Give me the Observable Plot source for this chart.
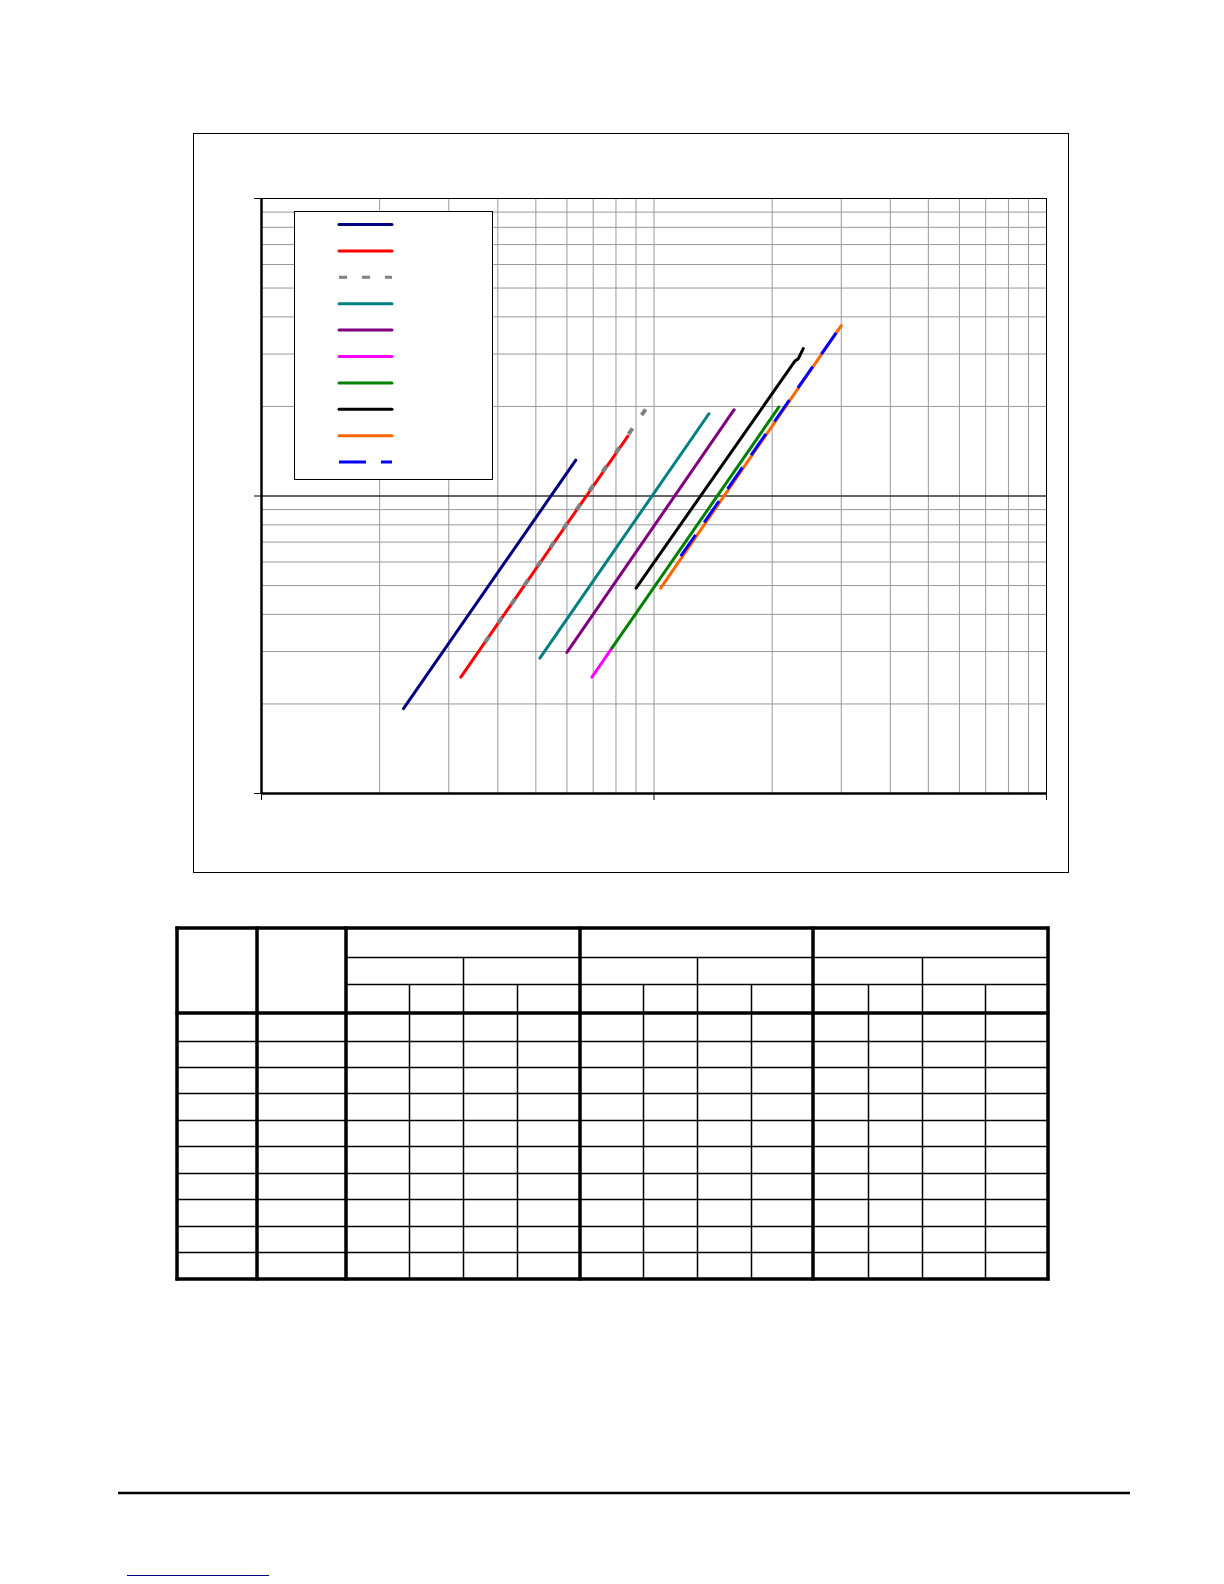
<!DOCTYPE html>
<html>
<head>
<meta charset="utf-8">
<script src="https://cdn.jsdelivr.net/npm/d3@7"></script>
<script src="https://cdn.jsdelivr.net/npm/@observablehq/plot@0.6"></script>
<style>
html,body{margin:0;padding:0;background:#fff}
#page{position:relative;width:1224px;height:1584px;overflow:hidden;font-family:Arial,"Liberation Sans",sans-serif;background:#fff}
#frame{position:absolute;left:193px;top:133px;width:876px;height:740px;border:1px solid #000;box-sizing:border-box}
#plot{position:absolute;left:211px;top:188px}
#overlay{position:absolute;left:0;top:0}
</style>
</head>
<body>
<div id="page">
  <div id="frame"></div>
  <div id="plot"></div>
  <svg id="overlay" width="1224" height="1584"></svg>
</div>
<script>
// ---- data (log-log, two decades each axis) ----
const seriesNames  = ["s1","s2","s3","s4","s5","s6","s7","s8","s9","s10"];
const seriesColors = ["#000080","#ff0000","#808080","#008080","#800080","#ff00ff","#008000","#000000","#ff6600","#0000ff"];
const seriesDash   = [null,null,"7,16",null,null,null,null,null,null,"26,15"];

const navyX    = [2.30, 6.32];   const navyY    = [1.93, 13.2];
const redX     = [3.22, 8.58];   const redY     = [2.46, 15.9];
const grayX    = [3.71, 9.71];   const grayY    = [3.22, 20.3];
const tealX    = [5.12, 13.8];   const tealY    = [2.85, 18.9];
const purpleX  = [6.00, 16.0];   const purpleY  = [2.98, 19.5];
const magentaX = [6.95, 7.81];   const magentaY = [2.46, 3.08];
const greenX   = [7.81, 20.8];   const greenY   = [3.08, 19.9];
const blackX   = [9.00, 22.9, 23.3, 24.0]; const blackY = [4.90, 28.5, 28.9, 31.3];
const orangeX  = [10.4, 30.0];   const orangeY  = [4.90, 37.4];
const blueX    = [11.7, 30.0];   const blueY    = [6.28, 37.4];

const seriesX = [navyX, redX, grayX, tealX, purpleX, magentaX, greenX, blackX, orangeX, blueX];
const seriesY = [navyY, redY, grayY, tealY, purpleY, magentaY, greenY, blackY, orangeY, blueY];

const majorTicks = [1, 10, 100];
const gridValues = [1,2,3,4,5,6,7,8,9,10,20,30,40,50,60,70,80,90,100];

// ---- chart ----
const lineMarks = seriesNames.map((name, i) => {
  const pts = seriesX[i].map((x, j) => ({x, y: seriesY[i][j]}));
  return Plot.line(pts, {
    x: "x", y: "y",
    stroke: seriesColors[i],
    strokeWidth: i === 2 ? 4 : 3,
    strokeDasharray: seriesDash[i] || undefined,
    strokeLinecap: seriesDash[i] ? "butt" : "round"
  });
});

const chart = Plot.plot({
  width: 845,
  height: 627,
  marginLeft: 50,
  marginRight: 10,
  marginTop: 10,
  marginBottom: 22,
  style: {background: "transparent", overflow: "visible"},
  x: {type: "log", domain: [1, 100], axis: null, label: null},
  y: {type: "log", domain: [1, 100], axis: null, label: null},
  marks: [
    Plot.ruleX(gridValues, {stroke: "#999", strokeWidth: 1}),
    Plot.ruleY(gridValues, {stroke: "#999", strokeWidth: 1}),
    Plot.ruleY([10], {stroke: "#000", strokeWidth: 1}),
    Plot.ruleY([100], {stroke: "#000", strokeWidth: 1}),
    Plot.ruleX([100], {stroke: "#000", strokeWidth: 1}),
    Plot.axisX(majorTicks, {anchor: "bottom", tickSize: 7, tickFormat: () => "", label: null, stroke: "#000"}),
    Plot.axisY(majorTicks, {anchor: "left", tickSize: 7, tickFormat: () => "", label: null, stroke: "#000"}),
    Plot.ruleY([1], {stroke: "#000", strokeWidth: 2.5}),
    Plot.ruleX([1], {stroke: "#000", strokeWidth: 2.5}),
    ...lineMarks
  ]
});
document.getElementById("plot").appendChild(chart);

// ---- legend, table, footer ----
const svg = d3.select("#overlay");

// legend
const lg = svg.append("g");
lg.append("rect").attr("x", 294.5).attr("y", 211.5).attr("width", 198).attr("height", 268)
  .attr("fill", "#fff").attr("stroke", "#000").attr("stroke-width", 1);
seriesNames.forEach((name, i) => {
  const y = 224.5 + i * 26.4;
  lg.append("line")
    .attr("x1", 339).attr("x2", 392).attr("y1", y).attr("y2", y)
    .attr("stroke", seriesColors[i]).attr("stroke-width", 3)
    .attr("stroke-dasharray", seriesDash[i] ? (i === 2 ? "8,15" : "27,15") : null)
    .attr("stroke-linecap", seriesDash[i] ? "butt" : "round");
});

// table grid
const colEdges = [177, 257, 346, 409, 463, 517, 580, 643, 697, 751, 813, 868, 922, 985, 1048];
const rowEdges = [928, 957, 984, 1013, 1041, 1067, 1093, 1120, 1146, 1173, 1199, 1226, 1252, 1279];
const tg = svg.append("g").attr("stroke", "#000").attr("fill", "none");
const L = colEdges[0], R = colEdges[colEdges.length - 1];
const T = rowEdges[0], B = rowEdges[rowEdges.length - 1];
rowEdges.forEach((y, i) => {
  if (i === 0 || i === 3 || i === rowEdges.length - 1) return;
  const x1 = (i < 3) ? colEdges[2] : L;
  tg.append("line").attr("x1", x1).attr("x2", R).attr("y1", y + 0.5).attr("y2", y + 0.5).attr("stroke-width", 1.5);
});
colEdges.forEach((x, i) => {
  if ([0, 1, 2, 6, 10, 14].includes(i)) return;
  const subgroup = [4, 8, 12].includes(i);
  const y1 = subgroup ? rowEdges[1] : rowEdges[2];
  tg.append("line").attr("x1", x + 0.5).attr("x2", x + 0.5).attr("y1", y1).attr("y2", B).attr("stroke-width", 1.5);
});
[0, 3, rowEdges.length - 1].forEach(i => {
  tg.append("line").attr("x1", L - 1.5).attr("x2", R + 1.5).attr("y1", rowEdges[i]).attr("y2", rowEdges[i]).attr("stroke-width", 3.5);
});
[0, 1, 2, 6, 10, 14].forEach(i => {
  tg.append("line").attr("x1", colEdges[i]).attr("x2", colEdges[i]).attr("y1", T - 1.5).attr("y2", B + 1.5).attr("stroke-width", 3.5);
});

// footer rule and link underline
svg.append("line").attr("x1", 118).attr("x2", 1130).attr("y1", 1493).attr("y2", 1493)
  .attr("stroke", "#000").attr("stroke-width", 2.5);
svg.append("line").attr("x1", 127).attr("x2", 269).attr("y1", 1575.5).attr("y2", 1575.5)
  .attr("stroke", "#000080").attr("stroke-width", 1);
</script>
</body>
</html>
